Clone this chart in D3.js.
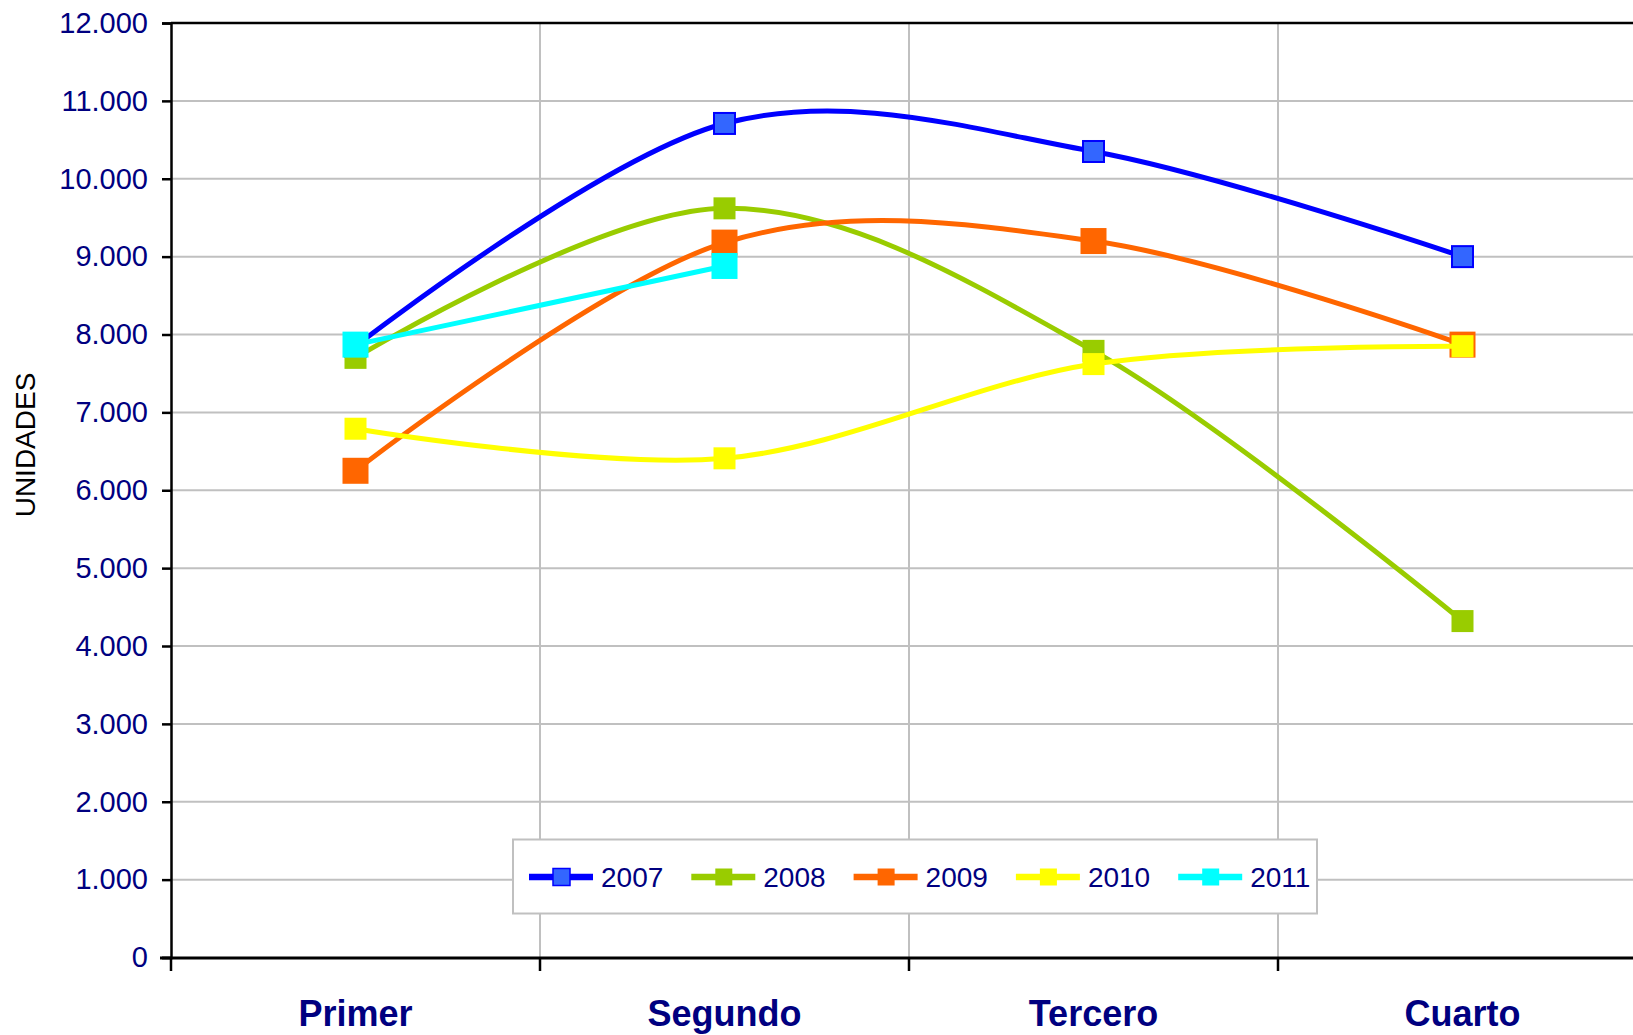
<!DOCTYPE html>
<html>
  <head>
    <meta charset="utf-8" />
    <script src="https://d3js.org/d3.v7.min.js"></script>
    <style>
      body { margin: 0; background: #fff; }
      text { font-family: "Liberation Sans", Arial, sans-serif; }
    </style>
  </head>
  <body>
    <div id="chart"></div>
    <script type="text/javascript">
// data
var categories = ["Primer", "Segundo", "Tercero", "Cuarto"];
var years = ["2007", "2008", "2009", "2010", "2011"];
var v2007 = [7850, 10710, 10350, 9000];
var v2008 = [7700, 9620, 7790, 4320];
var v2009 = [6250, 9180, 9200, 7870];
var v2010 = [6790, 6410, 7620, 7850];
var v2011 = [7870, 8880];
var yTicks = [0, 1000, 2000, 3000, 4000, 5000, 6000, 7000, 8000, 9000, 10000, 11000, 12000];

var colors = ["#0000FF", "#99CC00", "#FF6600", "#FFFF00", "#00FFFF"];
var markerSize = [21, 22, 26, 22, 26];
var allValues = [v2007, v2008, v2009, v2010, v2011];

var width = 1633, height = 1035;
var svg = d3.select("#chart").append("svg")
  .attr("width", width)
  .attr("height", height);

var x = d3.scaleBand().domain(categories).range([171, 1647]);
var y = d3.scaleLinear().domain([0, 12000]).range([957.5, 23]);

var es = d3.formatLocale({decimal: ",", thousands: ".", grouping: [3], currency: ["", ""]});
var fmt = es.format(",d");

// horizontal gridlines
svg.append("g").selectAll("line")
  .data(yTicks.filter(function(d) { return d > 0 && d < 12000; }))
  .enter().append("line")
    .attr("x1", 171).attr("x2", width)
    .attr("y1", function(d) { return y(d); })
    .attr("y2", function(d) { return y(d); })
    .attr("stroke", "#C0C0C0").attr("stroke-width", 2);

// vertical gridlines at category borders
svg.append("g").selectAll("line")
  .data(categories.slice(1))
  .enter().append("line")
    .attr("x1", function(d) { return x(d); })
    .attr("x2", function(d) { return x(d); })
    .attr("y1", 23).attr("y2", 957.5)
    .attr("stroke", "#C0C0C0").attr("stroke-width", 2);

// top border
svg.append("line")
  .attr("x1", 171).attr("x2", width)
  .attr("y1", 23).attr("y2", 23)
  .attr("stroke", "#000").attr("stroke-width", 2.5);

// y axis
var yAxis = svg.append("g")
  .attr("transform", "translate(171,0)")
  .call(d3.axisLeft(y).tickValues(yTicks).tickSize(9).tickPadding(14).tickFormat(fmt));
yAxis.select(".domain").attr("stroke", "#000").attr("stroke-width", 2.5);
yAxis.selectAll(".tick line").attr("stroke", "#000").attr("stroke-width", 2.5);
yAxis.selectAll(".tick text")
  .attr("fill", "#000080")
  .style("font-size", "29px")
  .style("font-family", "'Liberation Sans', Arial, sans-serif");

// x axis line and tick marks
svg.append("line")
  .attr("x1", 160).attr("x2", width)
  .attr("y1", 958).attr("y2", 958)
  .attr("stroke", "#000").attr("stroke-width", 3);
svg.append("g").selectAll("line")
  .data(categories)
  .enter().append("line")
    .attr("x1", function(d) { return x(d); })
    .attr("x2", function(d) { return x(d); })
    .attr("y1", 958).attr("y2", 971)
    .attr("stroke", "#000").attr("stroke-width", 2.5);

svg.append("g").selectAll("text")
  .data(categories)
  .enter().append("text")
    .attr("x", function(d) { return x(d) + x.bandwidth() / 2; })
    .attr("y", 1026)
    .attr("text-anchor", "middle")
    .attr("fill", "#000080")
    .style("font-size", "36px")
    .style("font-weight", "bold")
    .text(function(d) { return d; });

// y label
svg.append("text")
  .attr("transform", "translate(35,445) rotate(-90)")
  .attr("text-anchor", "middle")
  .attr("fill", "#000")
  .style("font-size", "28px")
  .text("UNIDADES");

// series
var line = d3.line()
  .x(function(d, i) { return x(categories[i]) + x.bandwidth() / 2; })
  .y(function(d) { return y(d); })
  .curve(d3.curveCardinal.tension(0));

allValues.forEach(function(vals, s) {
  var g = svg.append("g");
  g.append("path")
    .datum(vals)
    .attr("d", line)
    .attr("fill", "none")
    .attr("stroke", colors[s])
    .attr("stroke-width", 5)
    .attr("stroke-linejoin", "round");
  var m = markerSize[s];
  g.selectAll("rect")
    .data(vals)
    .enter().append("rect")
      .attr("x", function(d, i) { return x(categories[i]) + x.bandwidth() / 2 - m / 2; })
      .attr("y", function(d) { return y(d) - m / 2; })
      .attr("width", m).attr("height", m)
      .attr("fill", s === 0 ? "#3366FF" : colors[s])
      .attr("stroke", s === 0 ? "#0000FF" : "none")
      .attr("stroke-width", 2);
});

// legend
var legend = svg.append("g");
legend.append("rect")
  .attr("x", 513).attr("y", 839.5)
  .attr("width", 804).attr("height", 74)
  .attr("fill", "#fff")
  .attr("stroke", "#C0C0C0").attr("stroke-width", 2);

var items = legend.selectAll("g.item")
  .data(years)
  .enter().append("g")
    .attr("class", "item")
    .attr("transform", function(d, i) { return "translate(" + (529 + i * 162.3) + ",877)"; });
items.append("line")
  .attr("x1", 0).attr("x2", 64)
  .attr("y1", 0).attr("y2", 0)
  .attr("stroke", function(d, i) { return colors[i]; })
  .attr("stroke-width", 6.5);
items.append("rect")
  .attr("x", 24).attr("y", -8.5)
  .attr("width", 17).attr("height", 17)
  .attr("fill", function(d, i) { return i === 0 ? "#3366FF" : colors[i]; })
  .attr("stroke", function(d, i) { return i === 0 ? "#0000FF" : "none"; })
  .attr("stroke-width", 1.5);
items.append("text")
  .attr("x", 72)
  .attr("y", 10)
  .attr("fill", "#000080")
  .style("font-size", "28px")
  .text(function(d) { return d; });
    </script>
  </body>
</html>
